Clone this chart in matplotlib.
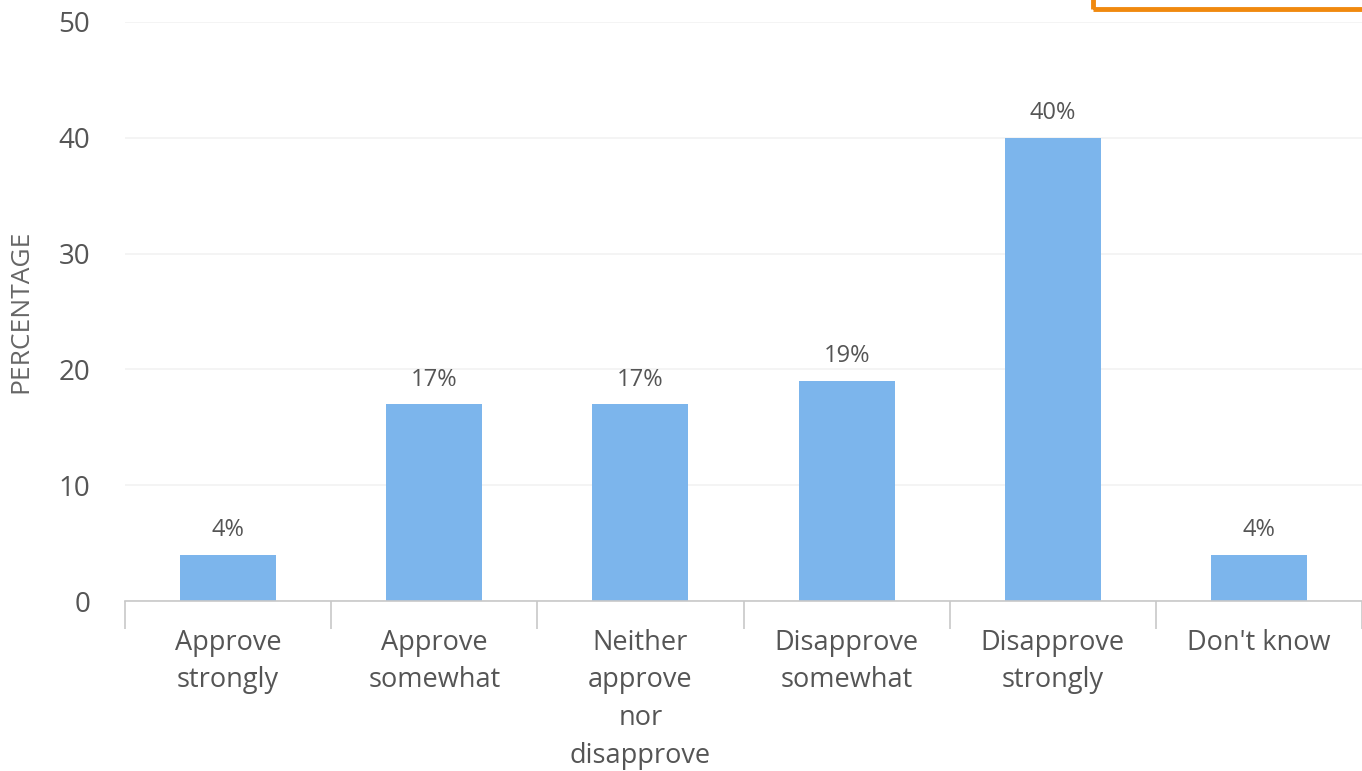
import numpy as np
import matplotlib.pyplot as plt
from matplotlib.patches import Rectangle

categories = ['Approve\nstrongly', 'Approve\nsomewhat', 'Neither\napprove\nnor\ndisapprove',
              'Disapprove\nsomewhat', 'Disapprove\nstrongly', "Don't know"]
values = [4, 17, 17, 19, 40, 4]
labels = ['4%', '17%', '17%', '19%', '40%', '4%']
yticks = [0, 10, 20, 30, 40, 50]

plt.rcParams['font.family'] = ['Open Sans', 'DejaVu Sans']
text_col = '#555555'

fig = plt.figure(figsize=(13.62, 7.71), dpi=100)
ax = fig.add_axes([125 / 1362, 1 - 601 / 771, 1 - 125 / 1362, (601 - 22) / 771])

x = np.arange(len(values))
ax.bar(x, values, width=0.465, color='#7cb5ec', zorder=2)
for xi, v, lab in zip(x, values, labels):
    ax.annotate(lab, (xi, v), xytext=(0, 9), textcoords='offset points',
                ha='center', va='bottom', fontsize=17, color=text_col)

ax.set_xlim(-0.5, len(values) - 0.5)
ax.set_ylim(0, 50)
ax.set_yticks(yticks)
ax.set_yticklabels([str(t) for t in yticks], fontsize=20, color=text_col)
ax.tick_params(axis='y', length=0, pad=25)
ax.grid(axis='y', color='#f2f2f2', lw=1.2, zorder=0)

# category boundaries as ticks, labels at centers
ax.set_xticks(np.arange(-0.5, len(values), 1.0))
ax.set_xticklabels([])
ax.tick_params(axis='x', which='major', length=20, color='#c8c8c8', width=1.2)
ax.set_xticks(x, minor=True)
ax.set_xticklabels(categories, minor=True, fontsize=19.5, color=text_col, linespacing=1.46)
ax.tick_params(axis='x', which='minor', length=0, pad=20)

for s in ['top', 'right', 'left']:
    ax.spines[s].set_visible(False)
ax.spines['bottom'].set_color('#c8c8c8')
ax.spines['bottom'].set_linewidth(1.2)

ax.set_ylabel('PERCENTAGE', fontsize=19, color='#666666')
ax.yaxis.set_label_coords(-92 / 1237, 0.5)

# orange highlight box cut off at the top right
fig.add_artist(Rectangle((1093 / 1362, 1 - 9 / 771), 0.5, 0.5, transform=fig.transFigure,
                         fill=False, edgecolor='#f0890f', lw=3.5, clip_on=False))

fig.savefig('out.png', dpi=100)
